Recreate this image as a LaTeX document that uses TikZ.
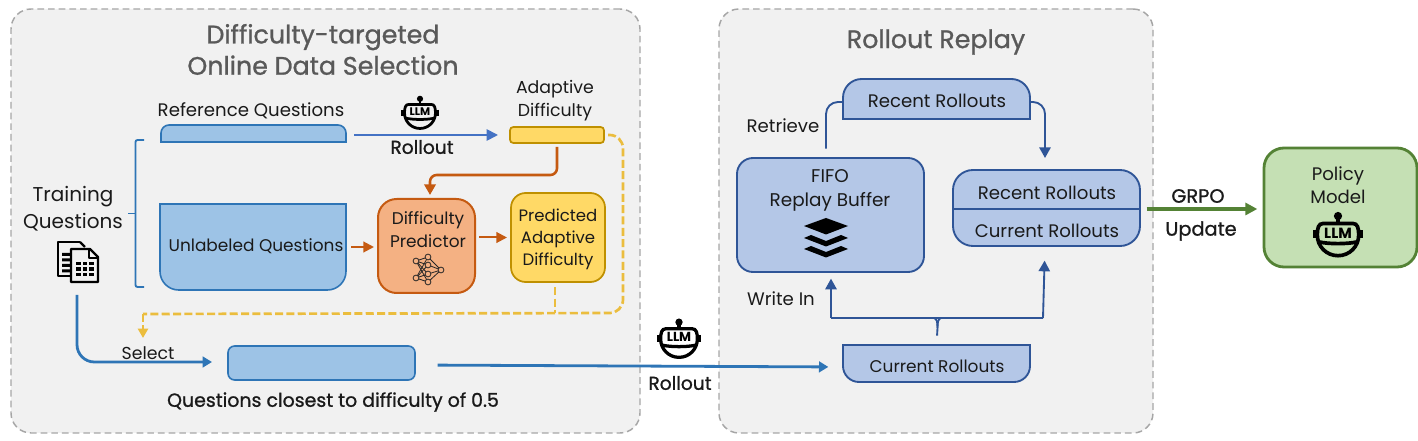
\documentclass[tikz,border=0pt]{standalone}
\usepackage{fontspec}
\setmainfont{Poppins}
\newfontfamily\medfont[FakeBold=1.0]{Poppins}
\usetikzlibrary{arrows.meta,calc}
\definecolor{panelfill}{HTML}{F1F1F1}
\definecolor{paneldash}{HTML}{A6A6A6}
\definecolor{titlegray}{HTML}{595959}
\definecolor{inktext}{HTML}{1A1A1A}
\definecolor{skyfill}{HTML}{9DC3E6}
\definecolor{skyline}{HTML}{2E75B6}
\definecolor{refarrow}{HTML}{4472C4}
\definecolor{amberfill}{HTML}{FFD966}
\definecolor{amberline}{HTML}{BF9000}
\definecolor{amberdash}{HTML}{EBBD3E}
\definecolor{orangefill}{HTML}{F4B183}
\definecolor{orangeline}{HTML}{C55A11}
\definecolor{navyfill}{HTML}{B4C7E7}
\definecolor{navyline}{HTML}{2F5597}
\definecolor{greenfill}{HTML}{C5E0B4}
\definecolor{greenline}{HTML}{548235}
\newcommand{\pxbox}[6]{\node[#1, minimum width={(#5-#3)*0.75pt}, minimum height={(#6-#4)*0.75pt}, inner sep=0pt, outer sep=0pt] (#2) at ({(#3+#5)/2},{(#4+#6)/2}) {};}
\newcommand{\llmicon}[4]{%
\begin{scope}[shift={(#2,#3)},scale=#4,line width={#4*2.4pt},black]
\node[inner sep=0pt,minimum size=1pt] (#1) at (0,0) {};
\fill (0,-16.5) circle (3.6);
\draw (0,-16) -- (0,-10);
\draw (-13,-10) -- (13,-10) .. controls (17,-10) and (18,-6) .. (18,0) .. controls (18,10) and (10,18) .. (0,18) .. controls (-10,18) and (-18,10) .. (-18,0) .. controls (-18,-6) and (-17,-10) .. (-13,-10) -- cycle;
\draw (-16.5,6) .. controls (-8,8) and (8,8) .. (16.5,6);
\draw[line width={#4*3pt}] (-20,-4) -- (-20,3) (20,-4) -- (20,3);
\node[inner sep=0pt,scale=#4,font=\bfseries\fontsize{9.6}{10}\selectfont] (#1t) at (0,-1.6) {LLM};
\end{scope}}
\tikzset{
  x=0.75pt,y=-0.75pt,
  panel/.style={draw=paneldash,fill=panelfill,dashed,dash pattern=on 5pt off 3pt,line width=1.1pt,rounded corners=15pt},
  lbl/.style={inner sep=0pt,outer sep=0pt,text=inktext,align=center,font=\fontsize{13.6}{17.3}\selectfont},
  lblb/.style={lbl,font=\medfont\fontsize{14}{17}\selectfont},
  paneltitle/.style={inner sep=0pt,text=titlegray,align=center,font=\medfont\fontsize{19}{23.5}\selectfont},
  sky/.style={draw=skyline,fill=skyfill,line width=1.2pt},
  amber/.style={draw=amberline,fill=amberfill,line width=1.3pt},
  navy/.style={draw=navyline,fill=navyfill,line width=1.4pt},
  ghost/.style={draw=none},
  bluearrow/.style={draw=skyline,line width=2.1pt,-{Triangle[length=7pt,width=8pt]}},
  refline/.style={draw=refarrow,line width=1.3pt,-{Triangle[length=8.5pt,width=8.5pt]}},
  orangearrow/.style={draw=orangeline,line width=1.9pt,-{Triangle[length=8pt,width=8.5pt]}},
  orangethin/.style={draw=orangeline,line width=1.5pt,-{Triangle[length=8pt,width=8pt]}},
  navyarrow/.style={draw=navyline,line width=1.4pt,-{Triangle[length=8pt,width=8.5pt]}},
  navyplain/.style={draw=navyline,line width=1.4pt},
  amberdashed/.style={draw=amberdash,line width=2pt,dash pattern=on 6pt off 2.5pt},
}
\begin{document}
\begin{tikzpicture}
\useasboundingbox (0,0) rectangle (1418,441);
\fill[white] (0,0) rectangle (1418,441);
% panels
\pxbox{panel}{leftpanel}{11}{9}{640}{433}
\pxbox{panel}{rightpanel}{719}{9}{1153}{433}
\node[paneltitle] (lefttitle) at (323,49.5) {Difficulty-targeted\\Online Data Selection};
\node[paneltitle] (righttitle) at (936,42) {Rollout Replay};
% left labels
\node[lbl,font=\fontsize{15}{20}\selectfont] (trainlbl) at (73,209) {Training\\Questions};
\node[lbl] (reflbl) at (251,111) {Reference Questions};
\node[lbl,font=\fontsize{13}{17.2}\selectfont] (adaptlbl) at (555,100.5) {Adaptive\\Difficulty};
\node[lblb] (rollout1) at (422,147) {Rollout};
% reference box
\pxbox{ghost}{refq}{161}{125}{346}{142}
\path[sky] (refq.south west) [rounded corners=6pt] -- (refq.north west) -- (refq.north east) [sharp corners] -- (refq.south east) -- cycle;
% unlabeled box
\pxbox{ghost}{unlq}{160}{204}{346}{290}
\path[sky] (unlq.north west) [rounded corners=14pt] -- (unlq.south west) -- (unlq.south east) [sharp corners] -- (unlq.north east) -- cycle;
\node[lbl,font=\fontsize{12.7}{16}\selectfont] (unllbl) at (256,246) {Unlabeled Questions};
% brace
\coordinate (bracetop) at (144,140);
\coordinate (bracebot) at (144,287);
\coordinate (bracetip) at (128,213.5);
\draw[skyline,line width=1.4pt,rounded corners=1.5pt] (bracetop) -- ++(-8.5,0) -- ++(0,147) -- (bracebot);
\draw[skyline,line width=1.4pt] (bracetip) -- ++(7.5,0);
% document icon
\node[ghost,minimum size=31pt,inner sep=0pt] (docs) at (78,262) {};
\begin{scope}[black,line width=1.8pt,line join=round]
\draw (80,242) -- (58,242) -- (58,276) -- (71,276);
\draw (80,242) -- (85,247);
\fill (62,253) rectangle (70,256) (62,258.5) rectangle (70,261.5) (62,264) rectangle (70,267) (62,269.5) rectangle (70,272.5);
\draw[fill=panelfill] (71,249) -- (90,249) -- (98,257) -- (98,282) -- (71,282) -- cycle;
\draw (89,249) -- (89,258) -- (98,258);
\foreach \cx in {76,82.5,89} \foreach \cy in {262,267.5,273} {\fill (\cx,\cy) rectangle ++(4.5,3.5);}
\end{scope}
% adaptive box
\pxbox{ghost}{adiff}{510}{127}{604}{143}
\path[amber,rounded corners=2.5pt] (adiff.south west) rectangle (adiff.north east);
% predictor
\pxbox{ghost}{pred}{378}{199}{475}{293}
\path[draw=orangeline,fill=orangefill,line width=1.5pt,rounded corners=14pt] (pred.south west) rectangle (pred.north east);
\node[lbl,font=\fontsize{12.7}{17}\selectfont] (predlbl) at (428,229.5) {Difficulty\\Predictor};
% neural-net icon
\begin{scope}[draw=black!85,line width=0.6pt]
\coordinate (n1) at (416,261);\coordinate (n2) at (416,278);
\coordinate (m1) at (428,257);\coordinate (m2) at (428,265);\coordinate (m3) at (428,274);\coordinate (m4) at (428,282);
\coordinate (o1) at (441,270);
\foreach \a in {n1,n2} \foreach \b in {m1,m2,m3,m4} {\draw (\a) -- (\b);}
\foreach \b in {m1,m2,m3,m4} {\draw (\b) -- (o1);}
\foreach \a in {n1,n2,m1,m2,m3,m4,o1} {\draw[fill=orangefill] (\a) circle (2.9);}
\end{scope}
% predicted
\pxbox{ghost}{predicted}{511}{193}{605}{282}
\path[amber,rounded corners=11pt] (predicted.south west) rectangle (predicted.north east);
\node[lbl,font=\fontsize{12.4}{16.3}\selectfont] (predictedlbl) at (558,239.5) {Predicted\\Adaptive\\Difficulty};
% selected box
\pxbox{ghost}{selq}{228}{346}{415}{380}
\path[sky,rounded corners=5pt] (selq.south west) rectangle (selq.north east);
\node[lblb,font=\medfont\fontsize{14.2}{17}\selectfont] (closest) at (333,402) {Questions closest to difficulty of 0.5};
\node[lbl,font=\fontsize{13}{17}\selectfont] (selectlbl) at (148,353) {Select};
% LLM icons
\llmicon{llmA}{420}{113}{0.86}
\llmicon{llmB}{679}{339}{1.02}
\node[lblb] (rollout2) at (680,383) {Rollout};
% connectors left
\draw[refline,shorten <=6pt,shorten >=9pt] (refq.east |- adiff.west) -- (adiff.west);
\coordinate (oc) at (430,175);
\draw[orangearrow,rounded corners=5pt,shorten <=3pt,shorten >=3pt] (adiff.south) |- (oc) -- (oc |- pred.north);
\draw[orangethin,shorten <=4pt,shorten >=3pt] (unlq.east) -- (pred.west |- unlq.east);
\draw[orangethin,shorten <=3pt,shorten >=3pt] (pred.east |- predicted.west) -- (predicted.west);
\coordinate (da) at (623,313);
\coordinate (db) at (143,314);
\draw[amberdashed,rounded corners=10pt,shorten <=3pt] (adiff.east) -| (da) -- (db);
\draw[draw=amberdash,line width=2pt,dash pattern=on 6pt off 2.5pt,-{Triangle[length=7pt,width=7.5pt]}] (db) -- ++(0,24);
\draw[amberdashed,shorten <=4pt] (predicted.south -| 555,0) -- (555,313);
\coordinate (sc) at (77,362);
\draw[bluearrow,rounded corners=13pt,shorten <=9pt,shorten >=12pt] (docs.south -| sc) -- (sc) -- (selq.west |- sc);
\pxbox{ghost}{curr}{843}{345}{1030}{382}
\draw[bluearrow,shorten <=17pt,shorten >=11pt] ($(selq.east)+(0,2)$) -- ($(curr.west)+(0,3.5)$);
% right panel
\pxbox{ghost}{recentT}{843}{79}{1030}{119}
\path[navy] (recentT.south west) [rounded corners=14pt] -- (recentT.north west) -- (recentT.north east) [sharp corners] -- (recentT.south east) -- cycle;
\node[lbl] (recentTl) at (937,101) {Recent Rollouts};
\pxbox{ghost}{fifo}{737}{158}{924}{272}
\path[navy,rounded corners=12pt] (fifo.south west) rectangle (fifo.north east);
\node[lbl,font=\fontsize{13.8}{18}\selectfont] (fifolbl) at (830,190) {FIFO\\Replay Buffer};
\fill[black] (804,226) -- (826,218) -- (848,226) -- (826,234.5) -- cycle;
\fill[black] (804,238) -- (811,235) -- (826,241) -- (841,235) -- (848,238) -- (826,246.5) -- cycle;
\fill[black] (804,249) -- (811,246) -- (826,252) -- (841,246) -- (848,249) -- (826,257.5) -- cycle;
\pxbox{ghost}{mix}{953}{170}{1140}{246}
\path[navy,rounded corners=15pt] (mix.south west) rectangle (mix.north east);
\coordinate (mixl) at (953,209);\coordinate (mixr) at (1140,209);
\draw[navyline,line width=1.9pt] (mixl) -- (mixr);
\node[lbl] (mixa) at (1047,193) {Recent Rollouts};
\node[lbl] (mixb) at (1047,231) {Current Rollouts};
\path[navy] (curr.north west) [rounded corners=12pt] -- (curr.south west) -- (curr.south east) [sharp corners] -- (curr.north east) -- cycle;
\node[lbl,font=\fontsize{12.7}{15}\selectfont] (currl) at (937,366) {Current Rollouts};
\node[lbl] (retrieve) at (783,126) {Retrieve};
\node[lbl] (writein) at (781,299) {Write In};
% connectors right
\coordinate (ret) at (826,102);
\draw[navyplain,rounded corners=9pt,shorten <=7pt] (ret |- fifo.north) -- (ret) -- (recentT.west |- ret);
\coordinate (rig) at (1045,102);
\draw[navyarrow,rounded corners=9pt,shorten >=9pt] (recentT.east |- rig) -- (rig) -- (rig |- mix.north);
\coordinate (ja) at (831,318);
\coordinate (jb) at (1043,318);
\draw[navyarrow,shorten >=5pt] (ja) -- (ja |- fifo.south);
\draw[navyarrow,shorten >=11pt] (jb) -- (1045,318 |- mix.south);
\draw[navyplain] (ja) -- (jb);
\draw[navyplain,shorten <=7pt] (curr.north) -- (937.5,328) .. controls (937.5,322) and (937,319) .. (934,318);
\draw[navyplain] (937.5,328) .. controls (937.5,322) and (938,319) .. (941,318);
% policy
\pxbox{ghost}{policy}{1264}{148}{1417}{267}
\path[draw=greenline,fill=greenfill,line width=2.1pt,rounded corners=15pt] (policy.south west) rectangle (policy.north east);
\node[lbl] (policylbl) at (1338,185.5) {Policy\\Model};
\llmicon{llmC}{1338}{235}{1.15}
\draw[draw=greenline,line width=2.3pt,-{Triangle[length=9pt,width=9pt]},shorten <=5pt,shorten >=5pt] (mix.east |- mixr) -- (policy.west |- mixr);
\node[lblb,font=\medfont\fontsize{14.5}{17}\selectfont] (grpo) at (1198,196) {GRPO};
\node[lblb,font=\medfont\fontsize{14.5}{17}\selectfont] (update) at (1201,231) {Update};
\end{tikzpicture}
\end{document}
